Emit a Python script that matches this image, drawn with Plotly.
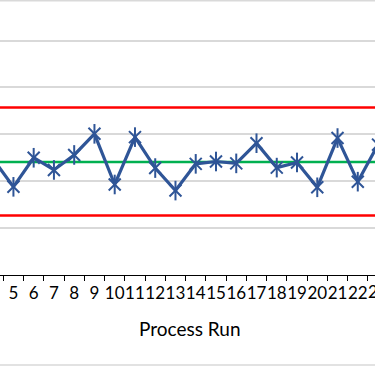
import plotly.graph_objects as go

# Data (visible part of the control chart)
runs = list(range(4, 24))
values = [2.47, 1.88, 2.50, 2.24, 2.56, 3.01, 1.93, 2.94, 2.28, 1.80,
          2.37, 2.42, 2.38, 2.81, 2.29, 2.40, 1.87, 2.92, 1.99, 2.78]
ucl = 3.57
center = 2.41
lcl = 1.27
tick_labels = [str(r) for r in range(5, 23)]
partial_label = "23"

BLUE = "#2F5597"
PX_PER_UNIT = 46.9
PLOT_H = 275
X0, X1 = 4.337, 22.85

fig = go.Figure()

# Control limits
fig.add_trace(go.Scatter(x=[runs[0], runs[-1]], y=[ucl, ucl], mode="lines",
                         line=dict(color="#FF0000", width=2.4), hoverinfo="skip"))
fig.add_trace(go.Scatter(x=[runs[0], runs[-1]], y=[lcl, lcl], mode="lines",
                         line=dict(color="#FF0000", width=2.4), hoverinfo="skip"))
fig.add_trace(go.Scatter(x=[runs[0], runs[-1]], y=[center, center], mode="lines",
                         line=dict(color="#00B050", width=2.4), hoverinfo="skip"))

# Process values
fig.add_trace(go.Scatter(x=runs, y=values, mode="lines+markers",
                         line=dict(color=BLUE, width=3.2),
                         marker=dict(symbol="x-thin-open", size=12, color=BLUE,
                                     line=dict(color=BLUE, width=2))))
fig.add_trace(go.Scatter(x=runs, y=values, mode="markers",
                         marker=dict(symbol="line-ns-open", size=14, color=BLUE,
                                     line=dict(color=BLUE, width=2))))

FONT = "Lato"

fig.update_layout(
    width=375, height=366,
    margin=dict(l=0, r=0, t=0, b=366 - PLOT_H, pad=0),
    paper_bgcolor="white", plot_bgcolor="white",
    showlegend=False,
    font=dict(family=FONT, color="#000000"),
    xaxis=dict(range=[X0, X1], tickvals=[r + 0.5 for r in range(4, 23)],
               ticktext=["" for _ in range(4, 23)], ticks="outside", ticklen=5,
               tickwidth=1.3, tickcolor="#000000",
               showline=True, linecolor="#000000", linewidth=1.3,
               showgrid=False, zeroline=False),
    xaxis2=dict(range=[X0, X1], overlaying="x", side="bottom",
                tickvals=list(range(5, 23)), ticktext=tick_labels, ticks="",
                tickangle=0,
                tickfont=dict(family=FONT, size=17, color="#000000"),
                showline=False, showgrid=False, zeroline=False,
                ticklabelstandoff=6),
    yaxis=dict(range=[0, PLOT_H / PX_PER_UNIT], dtick=1, showticklabels=False,
               showgrid=True, gridcolor="#D9D9D9", gridwidth=1.5,
               zeroline=False, ticks=""),
)

# Dummy trace to activate xaxis2
fig.add_trace(go.Scatter(x=[X0], y=[None], xaxis="x2", mode="markers",
                         hoverinfo="skip"))

# Partially visible last label and axis title
fig.add_annotation(text=partial_label, xref="paper", yref="paper",
                   x=(23 - X0) / (X1 - X0), y=(PLOT_H - 291) / PLOT_H,
                   xanchor="center", yanchor="middle", showarrow=False,
                   font=dict(family=FONT, size=17, color="#000000"))
fig.add_annotation(text="Process Run", xref="paper", yref="paper",
                   x=190 / 375, y=(PLOT_H - 328) / PLOT_H,
                   xanchor="center", yanchor="middle", showarrow=False,
                   font=dict(family=FONT, size=19, color="#000000"))

# Chart border lines (top and bottom visible in crop)
for py in (0.8, 365):
    fig.add_shape(type="line", xref="paper", yref="paper",
                  x0=-0.1, x1=1.1, y0=(PLOT_H - py) / PLOT_H, y1=(PLOT_H - py) / PLOT_H,
                  line=dict(color="#D9D9D9", width=1.5), layer="below")

fig.write_html("out.html")
